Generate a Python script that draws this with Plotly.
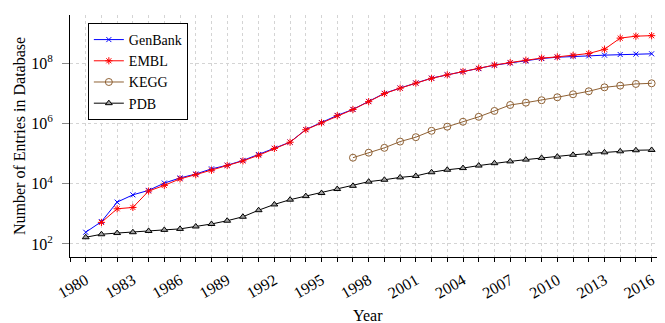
import plotly.graph_objects as go

# ---- data ----
years_genbank = list(range(1980, 2017))
genbank = [245, 550, 2450, 4270, 6000, 10500, 15500, 21000, 31000, 41000, 59000, 93000,
           150000, 240000, 630000, 1.07e6, 1.85e6, 2.93e6, 5.4e6, 1.0e7, 1.5e7, 2.2e7, 3.2e7,
           4.1e7, 5.3e7, 6.6e7, 8.6e7, 1.02e8, 1.2e8, 1.43e8, 1.58e8, 1.7e8, 1.75e8, 1.85e8,
           1.94e8, 2.0e8, 2.05e8]

years_embl = list(range(1981, 2017))
embl = [520, 1470, 1630, 5700, 8800, 14500, 20000, 28000, 40000, 57000, 88000,
        148000, 238000, 620000, 1.05e6, 1.82e6, 2.9e6, 5.3e6, 9.8e6, 1.48e7, 2.18e7, 3.15e7,
        4.1e7, 5.3e7, 6.8e7, 8.7e7, 1.05e8, 1.26e8, 1.48e8, 1.62e8, 1.82e8, 2.1e8, 2.9e8,
        6.8e8, 7.9e8, 8.2e8]

years_kegg = list(range(1997, 2017))
kegg = [73000, 107000, 155000, 250000, 350000, 570000, 780000, 1.14e6, 1.66e6, 2.6e6,
        4.1e6, 4.9e6, 5.9e6, 7.4e6, 9.3e6, 1.17e7, 1.58e7, 1.8e7, 2.05e7, 2.15e7]

years_pdb = list(range(1980, 2017))
pdb = [167, 210, 230, 245, 270, 293, 316, 380, 460, 590, 800, 1320,
       2050, 2950, 3870, 4900, 6650, 8500, 11700, 13500, 16200, 18100, 24000,
       29000, 33000, 40000, 48000, 55000, 63000, 72000, 79000, 91000, 100000, 110000,
       119000, 129000, 132000]

label_years = list(range(1980, 2017, 3))
all_years = list(range(1979, 2018))
long_tick_years = list(range(1982, 2017, 3))
y_tick_vals = [1e2, 1e4, 1e6, 1e8]
y_tick_text = ["10<sup>2</sup>", "10<sup>4</sup>", "10<sup>6</sup>", "10<sup>8</sup>"]
x_title = "Year"
y_title = "Number of Entries in Database"

FONT = "Liberation Serif, DejaVu Serif, serif"
GRID = "#d4d4d4"
X_RANGE = [1979, 2016.85]

fig = go.Figure()
fig.add_trace(go.Scatter(x=years_genbank, y=genbank, name="GenBank", mode="lines+markers",
                         line=dict(color="#0000ff", width=1),
                         marker=dict(symbol="x-thin", size=5, color="#0000ff",
                                     line=dict(color="#0000ff", width=1))))
fig.add_trace(go.Scatter(x=years_embl, y=embl, name="EMBL", mode="lines+markers",
                         line=dict(color="#ff0000", width=1),
                         marker=dict(symbol="asterisk", size=6, color="#ff0000",
                                     line=dict(color="#ff0000", width=1))))
fig.add_trace(go.Scatter(x=years_kegg, y=kegg, name="KEGG", mode="lines+markers",
                         line=dict(color="#8f6134", width=1),
                         marker=dict(symbol="circle-open", size=7, color="#8f6134",
                                     line=dict(color="#8f6134", width=1))))
fig.add_trace(go.Scatter(x=years_pdb, y=pdb, name="PDB", mode="lines+markers",
                         line=dict(color="#000000", width=1),
                         marker=dict(symbol="triangle-up", size=6, color="#a0a0a0",
                                     line=dict(color="#000000", width=1))))

# the page body has an 8px margin, so the figure is sized to fill the rest of the window
fig.update_layout(
    width=657, height=315,
    margin=dict(l=62, r=0, t=7, b=66, autoexpand=False),
    paper_bgcolor="white", plot_bgcolor="white",
    font=dict(family=FONT, size=16, color="black"),
    showlegend=True,
    legend=dict(x=0.03, y=0.967, xanchor="left", yanchor="top",
                bordercolor="black", borderwidth=1, bgcolor="white",
                font=dict(size=14), tracegroupgap=0),
    xaxis=dict(range=X_RANGE, showline=True, linecolor="black", linewidth=1,
               automargin=False,
               tickmode="array", tickvals=label_years, ticktext=[str(y) for y in label_years],
               ticks="outside", ticklen=4, tickcolor="black", tickwidth=1, tickangle=-30,
               ticklabelstandoff=3,
               showgrid=True, gridcolor=GRID, griddash="dot", gridwidth=1,
               minor=dict(tickmode="array", tickvals=all_years, ticks="outside", ticklen=4,
                          tickcolor="black", showgrid=True, gridcolor=GRID, griddash="dot"),
               zeroline=False),
    xaxis2=dict(range=X_RANGE, overlaying="x", side="top", anchor="y", automargin=False,
                showline=True, linecolor="#7a7a7a", linewidth=1.5,
                tickmode="array", tickvals=long_tick_years, ticks="outside", ticklen=8,
                tickcolor="#8a8a8a", showticklabels=False, showgrid=False, zeroline=False,
                minor=dict(tickmode="array", tickvals=all_years, ticks="outside", ticklen=3.5,
                           tickcolor="#444444", showgrid=False)),
    xaxis3=dict(range=X_RANGE, overlaying="x", side="bottom", anchor="y", automargin=False,
                showline=False, tickmode="array", tickvals=long_tick_years, ticks="outside",
                ticklen=8, tickcolor="#8a8a8a", showticklabels=False, showgrid=False,
                zeroline=False),
    yaxis=dict(type="log", range=[1.567, 9.6], showline=True, linecolor="black", linewidth=1,
               automargin=False,
               tickmode="array", tickvals=y_tick_vals, ticktext=y_tick_text,
               ticks="outside", ticklen=7, tickcolor="#8a8a8a", ticklabelstandoff=6,
               showgrid=True, gridcolor=GRID, griddash="dot", gridwidth=1,
               zeroline=False),
    annotations=[
        dict(text=x_title, xref="paper", yref="paper", x=0.5, y=-0.24,
             xanchor="center", yanchor="middle", showarrow=False, font=dict(size=16)),
        dict(text=y_title, xref="paper", yref="paper", x=-0.0857, y=0.5, textangle=-90,
             xanchor="center", yanchor="middle", showarrow=False, font=dict(size=16)),
    ],
)

fig.write_html("out.html")
